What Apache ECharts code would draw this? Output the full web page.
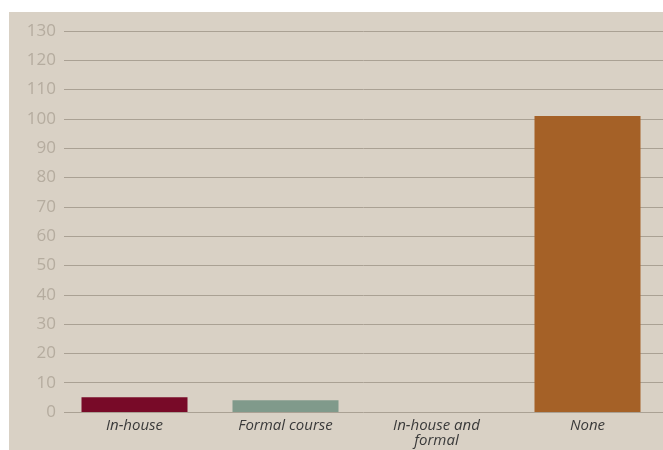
<!DOCTYPE html>
<html><head><meta charset="utf-8">
<script src="https://cdn.jsdelivr.net/npm/echarts@6/dist/echarts.min.js"></script>
<style>html,body{margin:0;padding:0;background:#fff}#c{width:663px;height:450px}</style>
</head><body><div id="c"></div>
<script>
const categories = ['In-house', 'Formal course', 'In-house and\nformal', 'None'];
const values = [5, 4, 0, 101];
const barColors = ['#780a28', '#809a8b', '#8a8a8a', '#a56127'];
const yMin = 0, yMax = 130, yStep = 10;

const chart = echarts.init(document.getElementById('c'), null, {renderer: 'canvas'});
chart.setOption({
  animation: false,
  backgroundColor: '#ffffff',
  graphic: [{type: 'rect', shape: {x: 9, y: 12, width: 654, height: 438}, style: {fill: '#d9d1c5'}, z: -10}],
  grid: [
    {left: 59, right: 0, top: 31, bottom: 38},
    {left: 64, right: 0, top: 31, bottom: 38}
  ],
  xAxis: [
    {type: 'category', gridIndex: 0, data: categories,
     axisLine: {show: false}, axisTick: {show: false},
     axisLabel: {color: '#3a3a3a', fontFamily: 'Open Sans', fontStyle: 'italic', fontSize: 15, lineHeight: 15, margin: 6, interval: 0}},
    {type: 'category', gridIndex: 1, data: categories, show: false}
  ],
  yAxis: [
    {type: 'value', gridIndex: 0, min: yMin, max: yMax, interval: yStep, show: false, splitLine: {show: false}},
    {type: 'value', gridIndex: 1, min: yMin, max: yMax, interval: yStep,
     axisLine: {show: false}, axisTick: {show: false},
     axisLabel: {color: '#b5ac9f', fontFamily: 'Open Sans', fontSize: 17, margin: 8},
     splitLine: {lineStyle: {color: '#aaa194', width: 1}}}
  ],
  series: [{
    type: 'bar', xAxisIndex: 0, yAxisIndex: 0,
    data: values.map((v, i) => ({value: v, itemStyle: {color: barColors[i]}})),
    barWidth: 106, z: 5
  }]
});
</script></body></html>
